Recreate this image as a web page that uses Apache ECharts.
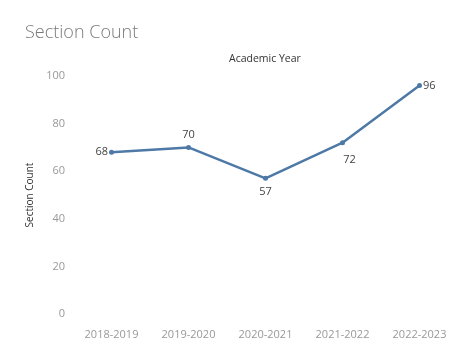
<!DOCTYPE html>
<html>
<head>
<meta charset="utf-8">
<script src="https://cdn.jsdelivr.net/npm/echarts@6/dist/echarts.min.js"></script>
<style>
  html, body { margin: 0; padding: 0; background: #fff; }
  #chart { width: 466px; height: 356px; }
</style>
</head>
<body>
<div id="chart"></div>
<script>
// Academic years and section counts
const years = ['2018-2019', '2019-2020', '2020-2021', '2021-2022', '2022-2023'];
const sectionCounts = [68, 70, 57, 72, 96];
const yTicks = [0, 20, 40, 60, 80, 100];
// where each value label sits relative to its point
const labelPlacement = ['left', 'top', 'bottom', 'bottom', 'right'];
const labelDistance = [1, 5, 6, 9, 1];

const FONT = '"Open Sans", "Noto Sans", sans-serif';

const chart = echarts.init(document.getElementById('chart'), null, { renderer: 'canvas' });

const points = sectionCounts.map((v, i) => ({
  value: v,
  label: {
    position: labelPlacement[i],
    distance: labelDistance[i],
    offset: i === 3 ? [7, 0] : [0, 0]
  }
}));

chart.setOption({
  animation: false,
  textStyle: { fontFamily: FONT },
  title: {
    text: 'Section Count',
    left: 20,
    top: 19,
    textStyle: { fontFamily: FONT, fontSize: 18, fontWeight: 300, color: '#7a7a7a' }
  },
  graphic: [{
    type: 'text',
    left: 229,
    top: 54,
    style: { text: 'Academic Year', fontFamily: FONT, fontSize: 10.5, fill: '#333' }
  }],
  grid: { left: 73, right: 8, top: 76, bottom: 42 },
  xAxis: {
    type: 'category',
    data: years,
    boundaryGap: true,
    axisLine: { show: false },
    axisTick: { show: false },
    axisLabel: { color: '#999', fontSize: 11, margin: 15, fontFamily: FONT }
  },
  yAxis: {
    type: 'value',
    min: yTicks[0],
    max: yTicks[yTicks.length - 1],
    interval: 20,
    name: 'Section Count',
    nameLocation: 'middle',
    nameGap: 36,
    nameTextStyle: { fontSize: 10, color: '#333', fontFamily: FONT },
    axisLine: { show: false },
    axisTick: { show: false },
    splitLine: { show: false },
    axisLabel: { color: '#999', fontSize: 11, margin: 8, fontFamily: FONT }
  },
  series: [{
    type: 'line',
    data: points,
    symbol: 'circle',
    symbolSize: 5,
    lineStyle: { color: '#4e79a7', width: 2.5 },
    itemStyle: { color: '#4e79a7' },
    label: { show: true, color: '#444', fontSize: 11, fontFamily: FONT }
  }]
});
</script>
</body>
</html>
